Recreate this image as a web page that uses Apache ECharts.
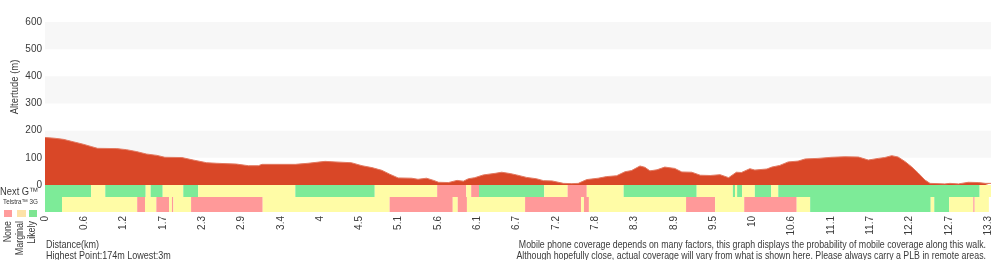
<!DOCTYPE html>
<html>
<head>
<meta charset="utf-8">
<script src="https://cdn.jsdelivr.net/npm/echarts@6/dist/echarts.min.js"></script>
<style>
  html, body { margin: 0; padding: 0; background: #fff; }
  #chart { width: 1000px; height: 260px; }
</style>
</head>
<body>
<div id="chart"></div>
<script>
// elevation profile (distance in km, altitude in m)
const distKm = [0, 0.14, 0.26, 0.40, 0.54, 0.66, 0.74, 1.01, 1.15, 1.29, 1.43, 1.58, 1.69, 1.93, 2.09, 2.28, 2.42, 2.70, 2.87, 3.01,
  3.06, 3.31, 3.53, 3.71, 3.95, 4.09, 4.32, 4.47, 4.61, 4.75, 4.86, 4.98, 5.17, 5.26, 5.38, 5.48, 5.55, 5.69, 5.81, 5.90,
  5.97, 6.06, 6.18, 6.35, 6.44, 6.56, 6.65, 6.79, 6.93, 7.03, 7.15, 7.31, 7.43, 7.52, 7.64, 7.80, 7.92, 8.06, 8.18, 8.27,
  8.39, 8.46, 8.53, 8.63, 8.74, 8.88, 8.98, 9.12, 9.24, 9.38, 9.52, 9.64, 9.75, 9.82, 9.94, 10.01, 10.18, 10.25, 10.36, 10.48,
  10.62, 10.72, 10.90, 11.09, 11.28, 11.47, 11.61, 11.75, 11.84, 11.94, 12.03, 12.13, 12.22, 12.31, 12.41, 12.48, 12.69, 12.76, 12.88, 13.02,
  13.16, 13.26, 13.34]
const elevM = [175, 172, 168, 159, 150, 141, 135, 134, 130, 123, 114, 109, 102, 101, 92, 82, 80, 77, 71, 71,
  76, 76, 76, 80, 87, 85, 82, 71, 64, 54, 40, 26, 25, 21, 25, 17, 10, 9, 17, 14,
  23, 27, 37, 43, 47, 42, 37, 28, 23, 16, 15, 6, 5, 6, 20, 25, 31, 34, 49, 53,
  70, 65, 52, 56, 66, 61, 48, 47, 36, 35, 38, 27, 47, 46, 60, 55, 59, 66, 72, 85,
  88, 96, 98, 102, 104, 103, 92, 98, 101, 108, 103, 86, 67, 45, 18, 6, 4, 6, 4, 10,
  9, 6, 6]

// x axis tick labels
const xLabels = ['0', '0.6', '1.2', '1.7', '2.3', '2.9', '3.4', '4', '4.5', '5.1', '5.6', '6.1', '6.7',
  '7.2', '7.8', '8.3', '8.9', '9.5', '10', '10.6', '11.1', '11.7', '12.2', '12.7', '13.3']

// coverage levels
const levels = ['None', 'Marginal', 'Likely']

// Next G coverage: segment i runs from breaks[i] to breaks[i+1]
const nextGBreaks = [0, 0.65, 0.85, 1.42, 1.49, 1.66, 1.95, 2.16, 3.53, 4.65, 5.53, 5.94, 6.01, 6.12, 7.04, 7.37, 7.64,
  8.16, 9.19, 9.70, 9.73, 9.76, 9.83, 10.01, 10.24, 10.34, 13.18, 13.34]
const nextGLevels = ['Likely', 'Marginal', 'Likely', 'Marginal', 'Likely', 'Marginal', 'Likely', 'Marginal', 'Likely', 'Marginal',
  'None', 'Marginal', 'None', 'Likely', 'Marginal', 'None', 'Marginal', 'Likely', 'Marginal', 'Likely', 'Marginal', 'Likely',
  'Marginal', 'Likely', 'Marginal', 'Likely', 'Marginal']

// Telstra 3G coverage
const g3Breaks = [0, 0.24, 1.30, 1.41, 1.57, 1.75, 1.79, 1.81, 2.06, 3.07, 4.86, 5.75, 5.82, 5.95, 6.77, 7.56, 7.60, 7.67,
  9.04, 9.45, 9.86, 10.60, 10.79, 12.49, 12.54, 12.75, 13.09, 13.11, 13.31]
const g3Levels = ['Likely', 'Marginal', 'None', 'Marginal', 'None', 'Marginal', 'None', 'Marginal', 'None', 'Marginal',
  'None', 'Marginal', 'None', 'Marginal', 'None', 'Marginal', 'None', 'Marginal', 'None', 'Marginal', 'None', 'Marginal',
  'Likely', 'Marginal', 'Likely', 'Marginal', 'None', 'Marginal']

const levelColors = { None: '#ff9999', Marginal: '#fffca6', Likely: '#7deb98' }
const legendColors = ['#ff9c9c', '#fde2a8', '#7de592']

const FONT = '"Liberation Sans", Arial, sans-serif'
const TEXT = '#3a3a3a'
const X_MAX = 13.34
const STEP = 13.3 / 24

function segments(breaks, lv) {
  return lv.map((l, i) => [breaks[i], breaks[i + 1], levels.indexOf(l)])
}

// rows inside the coverage grid (y axis 0..27)
function bandRenderer(yLow, yHigh) {
  return function (params, api) {
    const p0 = api.coord([api.value(0), yHigh])
    const p1 = api.coord([api.value(1), yLow])
    return {
      type: 'rect',
      shape: { x: p0[0], y: p0[1], width: p1[0] - p0[0], height: p1[1] - p0[1] },
      style: { fill: levelColors[levels[api.value(2)]] }
    }
  }
}

const chart = echarts.init(document.getElementById('chart'), null, { renderer: 'canvas' })

const txt = (o) => Object.assign({ type: 'text', silent: true }, o)

chart.setOption({
  animation: false,
  grid: [
    { left: 45, right: 9, top: 22, height: 163, outerBoundsMode: 'none' },
    { left: 45, right: 9, top: 185, height: 27, outerBoundsMode: 'none' }
  ],
  xAxis: [
    { type: 'value', gridIndex: 0, min: 0, max: X_MAX, show: false, splitLine: { show: false } },
    {
      type: 'value', gridIndex: 1, min: 0, max: X_MAX, interval: STEP,
      axisLine: { show: false }, axisTick: { show: false }, splitLine: { show: false },
      axisLabel: {
        rotate: 90, margin: 4, fontSize: 10, color: TEXT, fontFamily: FONT,
        showMinLabel: true, showMaxLabel: true,
        formatter: (v) => {
          const i = Math.round(v / STEP)
          return Math.abs(v - i * STEP) < 0.01 && xLabels[i] !== undefined ? xLabels[i] : ''
        }
      }
    }
  ],
  yAxis: [
    {
      type: 'value', gridIndex: 0, min: 0, max: 600, interval: 100,
      axisLine: { show: false }, axisTick: { show: false },
      splitLine: { show: false },
      splitArea: { show: true, areaStyle: { color: ['rgba(255,255,255,0)', '#f7f7f7'] } },
      axisLabel: { fontSize: 10, color: TEXT, fontFamily: FONT, margin: 3 }
    },
    { type: 'value', gridIndex: 1, min: 0, max: 27, show: false, splitLine: { show: false } }
  ],
  series: [
    {
      type: 'line', xAxisIndex: 0, yAxisIndex: 0,
      data: distKm.map((d, i) => [d, elevM[i]]),
      showSymbol: false, symbol: 'none',
      lineStyle: { color: '#e27a62', width: 1 },
      areaStyle: { color: '#d94727', opacity: 1 },
      z: 3
    },
    {
      type: 'custom', xAxisIndex: 1, yAxisIndex: 1,
      renderItem: bandRenderer(15, 27),
      data: segments(nextGBreaks, nextGLevels)
    },
    {
      type: 'custom', xAxisIndex: 1, yAxisIndex: 1,
      renderItem: bandRenderer(0, 15),
      data: segments(g3Breaks, g3Levels)
    }
  ],
  graphic: [
    txt({ x: 15, y: 87, rotation: Math.PI / 2, scaleX: 0.9, style: { text: 'Altertude (m)', font: '10.5px ' + FONT, fill: TEXT, align: 'center', verticalAlign: 'middle' } }),
    txt({ x: 0, y: 192, scaleX: 0.85, style: { text: 'Next G™', font: '11px ' + FONT, fill: TEXT, verticalAlign: 'middle' } }),
    txt({ x: 3, y: 202, scaleX: 0.9, style: { text: 'Telstra™ 3G', font: '7px ' + FONT, fill: TEXT, verticalAlign: 'middle' } }),
    { type: 'rect', shape: { x: 4, y: 210, width: 8, height: 7 }, style: { fill: legendColors[0] }, silent: true },
    { type: 'rect', shape: { x: 17, y: 210, width: 9, height: 7 }, style: { fill: legendColors[1] }, silent: true },
    { type: 'rect', shape: { x: 29, y: 210, width: 8, height: 7 }, style: { fill: legendColors[2] }, silent: true },
    txt({ x: 8, y: 221, rotation: Math.PI / 2, scaleX: 0.85, style: { text: levels[0], font: '10.5px ' + FONT, fill: TEXT, align: 'right', verticalAlign: 'middle' } }),
    txt({ x: 20, y: 221, rotation: Math.PI / 2, scaleX: 0.85, style: { text: levels[1], font: '10.5px ' + FONT, fill: TEXT, align: 'right', verticalAlign: 'middle' } }),
    txt({ x: 32, y: 221, rotation: Math.PI / 2, scaleX: 0.85, style: { text: levels[2], font: '10.5px ' + FONT, fill: TEXT, align: 'right', verticalAlign: 'middle' } }),
    txt({ x: 46, y: 245, scaleX: 0.82, style: { text: 'Distance(km)', font: '11px ' + FONT, fill: TEXT, verticalAlign: 'middle' } }),
    txt({ x: 46, y: 256, scaleX: 0.82, style: { text: 'Highest Point:174m Lowest:3m', font: '11px ' + FONT, fill: TEXT, verticalAlign: 'middle' } }),
    txt({ x: 986, y: 245, scaleX: 0.8, style: { text: 'Mobile phone coverage depends on many factors, this graph displays the probability of mobile coverage along this walk.', font: '11px ' + FONT, fill: TEXT, align: 'right', verticalAlign: 'middle' } }),
    txt({ x: 986, y: 256, scaleX: 0.8, style: { text: 'Although hopefully close, actual coverage will vary from what is shown here. Please always carry a PLB in remote areas.', font: '11px ' + FONT, fill: TEXT, align: 'right', verticalAlign: 'middle' } })
  ]
})
</script>
</body>
</html>
